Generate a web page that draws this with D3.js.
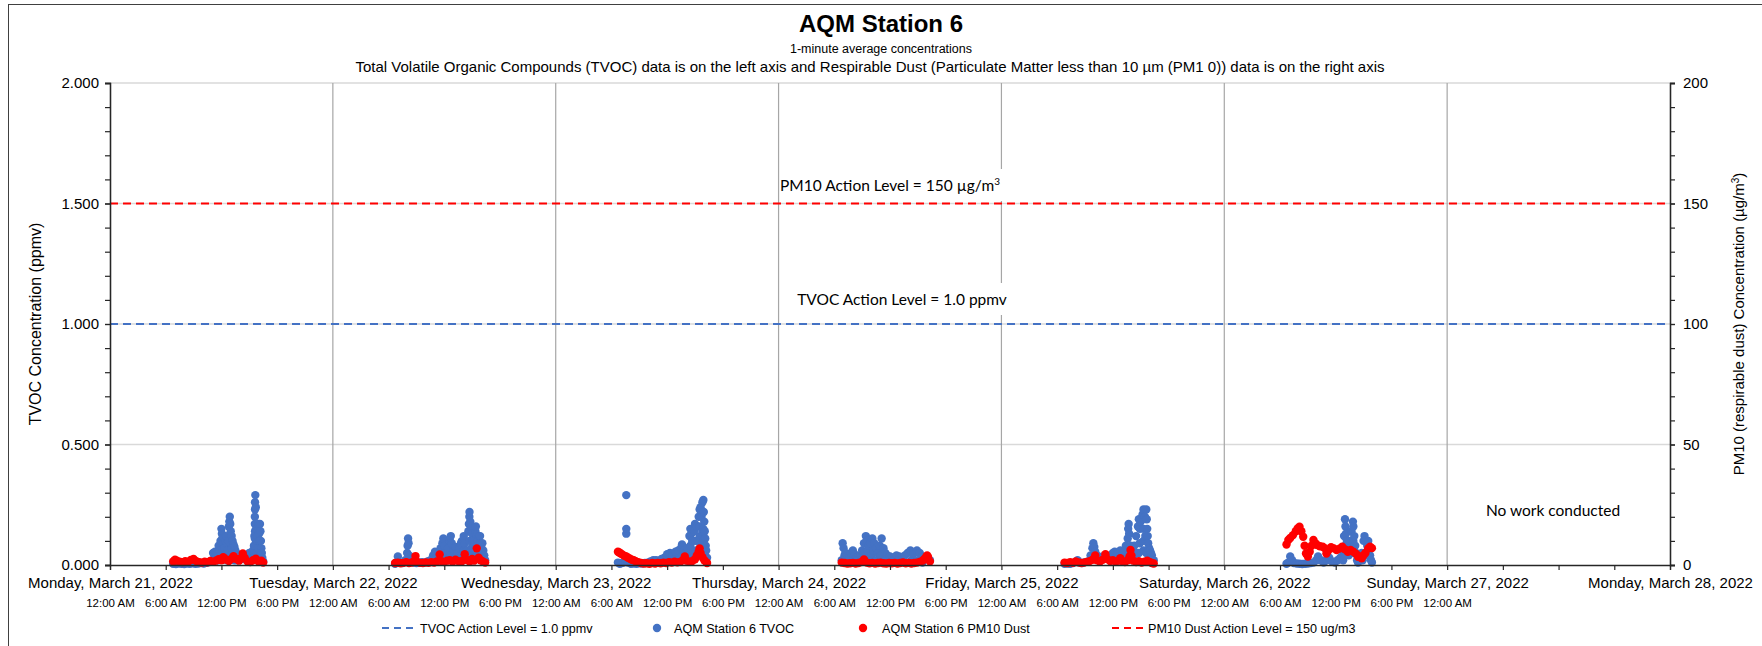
<!DOCTYPE html>
<html>
<head>
<meta charset="utf-8">
<script src="https://cdn.jsdelivr.net/npm/d3@7"></script>
<style>
  body { margin: 0; background: #fff; }
  text { font-family: "Liberation Sans", Arial, sans-serif; }
  .note { font-family: Lato, "Open Sans", sans-serif; }
</style>
</head>
<body>
<div id="chart"></div>
<script>
// data: [hours since Mon Mar 21 2022 00:00, value]
// TVOC in ppmv (left axis), PM10 in ug/m3 (right axis)
const tvocMar21 = [[6.8,0.005],[7.1,0.004],[7.4,0.006],[7.7,0.005],[8.0,0.004],[8.3,0.006],[8.6,0.005],[8.9,0.007],[9.2,0.005],[9.5,0.006],[9.8,0.008],[10.1,0.006],[10.4,0.009],[10.7,0.012],[11.0,0.02],
  [11.1,0.05],[11.2,0.02],[11.3,0.055],[11.5,0.045],[11.6,0.02],[11.7,0.08],[11.8,0.06],[11.9,0.1],[12.0,0.15],[12.0,0.05],[12.05,0.13],[12.1,0.11],[12.2,0.09],[12.2,0.03],[12.3,0.07],[12.4,0.1],[12.4,0.04],[12.5,0.12],[12.6,0.09],[12.6,0.02],[12.7,0.06],[12.8,0.16],[12.8,0.1],[12.85,0.18],[12.9,0.2],[12.95,0.17],[13.0,0.14],[13.0,0.04],[13.1,0.12],[13.1,0.07],[13.2,0.1],[13.3,0.085],[13.3,0.03],[13.4,0.075],[13.4,0.02],[13.5,0.06],[13.6,0.05],[13.7,0.02],[13.8,0.04],[14.0,0.035],[14.2,0.03],[14.4,0.025],[14.6,0.03],[14.8,0.04],[15.0,0.05],[15.1,0.02],[15.2,0.045],[15.4,0.06],[15.5,0.08],[15.5,0.03],[15.55,0.12],[15.6,0.05],[15.6,0.08],[15.6,0.11],[15.6,0.17],[15.6,0.2],[15.62,0.14],[15.62,0.23],[15.62,0.26],[15.65,0.29],[15.7,0.24],[15.75,0.15],[15.8,0.1],[15.8,0.05],[15.9,0.12],[15.95,0.15],[16.0,0.17],[16.0,0.07],[16.05,0.13],[16.1,0.1],[16.15,0.17],[16.2,0.14],[16.2,0.04],[16.25,0.1],[16.3,0.07],[16.35,0.05],[16.4,0.03],[16.5,0.015]];
const tvocMar22 = [[30.7,0.005],[31.0,0.035],[31.2,0.01],[31.5,0.008],[31.8,0.02],[32.0,0.05],[32.05,0.08],[32.1,0.11],[32.15,0.09],[32.2,0.04],[32.4,0.015],[32.7,0.01],[33.0,0.008],[33.3,0.01],[33.6,0.012],[33.9,0.01],[34.2,0.015],[34.5,0.02],[34.8,0.04],[35.0,0.055],[35.1,0.02],[35.2,0.03],[35.4,0.05],[35.5,0.02],[35.6,0.07],[35.7,0.03],[35.8,0.09],[35.9,0.11],[35.9,0.04],[36.0,0.08],[36.1,0.03],[36.2,0.05],[36.4,0.07],[36.5,0.03],[36.6,0.1],[36.7,0.12],[36.7,0.04],[36.8,0.09],[37.0,0.06],[37.1,0.03],[37.2,0.075],[37.4,0.05],[37.5,0.02],[37.6,0.07],[37.8,0.09],[37.9,0.1],[37.9,0.04],[38.1,0.12],[38.1,0.06],[38.2,0.09],[38.4,0.06],[38.5,0.03],[38.6,0.14],[38.65,0.17],[38.7,0.2],[38.7,0.05],[38.7,0.1],[38.72,0.22],[38.72,0.14],[38.8,0.18],[38.9,0.16],[38.9,0.07],[39.0,0.13],[39.1,0.1],[39.2,0.08],[39.3,0.04],[39.35,0.14],[39.4,0.16],[39.4,0.05],[39.5,0.12],[39.6,0.1],[39.7,0.06],[39.75,0.12],[39.8,0.04],[39.85,0.12],[39.9,0.09],[40.0,0.07],[40.1,0.09],[40.2,0.06],[40.3,0.04],[40.4,0.02]];
const tvocMar23 = [[54.7,0.01],[54.9,0.005],[55.1,0.008],[55.3,0.01],[55.5,0.02],[55.6,0.13],[55.6,0.15],[55.6,0.29],[55.8,0.01],[56.1,0.005],[56.4,0.006],[56.7,0.005],[57.0,0.007],[57.3,0.006],[57.6,0.008],[57.9,0.01],[58.2,0.015],[58.5,0.02],[58.8,0.02],[59.1,0.018],[59.4,0.025],[59.7,0.03],[60.0,0.045],[60.3,0.05],[60.4,0.02],[60.6,0.04],[60.9,0.055],[61.0,0.02],[61.2,0.06],[61.4,0.03],[61.5,0.07],[61.6,0.085],[61.8,0.06],[62.0,0.05],[62.1,0.02],[62.2,0.07],[62.3,0.04],[62.4,0.12],[62.5,0.15],[62.5,0.08],[62.6,0.13],[62.7,0.1],[62.8,0.05],[62.9,0.14],[63.0,0.17],[63.0,0.1],[63.1,0.06],[63.2,0.16],[63.3,0.1],[63.4,0.2],[63.5,0.23],[63.5,0.12],[63.5,0.16],[63.6,0.24],[63.6,0.08],[63.7,0.2],[63.8,0.26],[63.8,0.14],[63.9,0.27],[63.9,0.06],[63.9,0.1],[63.9,0.15],[63.95,0.22],[64.0,0.18],[64.05,0.14],[64.1,0.11],[64.15,0.08],[64.2,0.06],[64.3,0.03]];
const tvocMar24 = [[78.8,0.02],[78.9,0.09],[79.0,0.07],[79.1,0.04],[79.2,0.05],[79.4,0.035],[79.5,0.01],[79.6,0.03],[79.8,0.05],[80.0,0.06],[80.1,0.03],[80.2,0.045],[80.4,0.03],[80.5,0.01],[80.6,0.035],[80.8,0.04],[81.0,0.06],[81.1,0.03],[81.2,0.09],[81.3,0.05],[81.4,0.12],[81.5,0.1],[81.5,0.02],[81.6,0.06],[81.7,0.08],[81.9,0.09],[82.0,0.04],[82.1,0.11],[82.2,0.06],[82.3,0.09],[82.5,0.07],[82.5,0.02],[82.7,0.05],[82.9,0.08],[83.0,0.04],[83.1,0.11],[83.3,0.07],[83.5,0.05],[83.5,0.015],[83.7,0.04],[84.0,0.035],[84.3,0.03],[84.5,0.01],[84.7,0.04],[85.0,0.035],[85.3,0.03],[85.5,0.01],[85.6,0.04],[85.9,0.05],[86.2,0.06],[86.3,0.02],[86.5,0.045],[86.5,0.01],[86.9,0.06],[87.0,0.02],[87.2,0.05],[87.5,0.035],[87.5,0.01],[87.8,0.03],[88.1,0.025],[88.3,0.02]];
const tvocMar25 = [[102.8,0.005],[103.1,0.006],[103.4,0.005],[103.7,0.008],[104.0,0.012],[104.2,0.02],[104.4,0.01],[104.7,0.008],[105.0,0.012],[105.3,0.015],[105.6,0.04],[105.8,0.07],[105.9,0.09],[106.0,0.075],[106.0,0.03],[106.1,0.055],[106.3,0.04],[106.6,0.03],[106.9,0.035],[107.2,0.03],[107.5,0.025],[107.8,0.04],[108.0,0.05],[108.2,0.055],[108.3,0.02],[108.5,0.045],[108.8,0.06],[108.9,0.02],[109.1,0.05],[109.4,0.08],[109.5,0.03],[109.6,0.11],[109.65,0.15],[109.7,0.17],[109.7,0.03],[109.75,0.13],[109.8,0.06],[109.9,0.08],[110.1,0.06],[110.2,0.03],[110.3,0.08],[110.5,0.12],[110.6,0.05],[110.7,0.16],[110.8,0.19],[110.8,0.05],[110.9,0.15],[110.9,0.09],[111.0,0.18],[111.2,0.21],[111.3,0.23],[111.3,0.06],[111.3,0.1],[111.3,0.15],[111.45,0.2],[111.5,0.12],[111.6,0.23],[111.6,0.05],[111.65,0.19],[111.7,0.15],[111.75,0.12],[111.8,0.09],[111.9,0.07],[112.0,0.06],[112.1,0.05],[112.2,0.04],[112.4,0.02]];
const tvocMar26 = [[126.7,0.005],[126.9,0.01],[127.1,0.035],[127.3,0.02],[127.5,0.008],[127.8,0.006],[128.1,0.005],[128.4,0.004],[128.7,0.005],[129.0,0.006],[129.3,0.008],[129.6,0.01],[129.9,0.02],[130.1,0.035],[130.4,0.02],[130.7,0.01],[131.0,0.02],[131.3,0.03],[131.6,0.015],[131.9,0.01],[132.2,0.02],[132.5,0.03],[132.7,0.06],[132.8,0.02],[132.9,0.12],[133.0,0.19],[133.0,0.04],[133.0,0.08],[133.05,0.16],[133.1,0.13],[133.2,0.1],[133.3,0.08],[133.4,0.04],[133.5,0.1],[133.6,0.05],[133.7,0.14],[133.85,0.18],[133.9,0.16],[133.9,0.05],[133.9,0.1],[134.0,0.12],[134.1,0.08],[134.2,0.05],[134.3,0.02],[134.4,0.01],[134.6,0.02],[134.8,0.05],[134.9,0.02],[135.0,0.1],[135.1,0.12],[135.1,0.05],[135.2,0.1],[135.4,0.08],[135.5,0.1],[135.5,0.04],[135.6,0.07],[135.7,0.04],[135.8,0.02],[135.9,0.01]];

const pm10Mar21 = [[6.8,1.5],[7.0,2.2],[7.2,1.8],[7.5,1.4],[7.8,1.2],[8.1,1.6],[8.4,1.3],[8.7,2.1],[9.0,2.5],[9.3,1.6],[9.6,1.2],[9.9,1.0],[10.2,1.4],[10.5,1.1],[10.8,1.7],[11.1,1.3],[11.4,1.8],[11.7,2.4],[12.0,2.0],[12.2,3.2],[12.5,2.3],[12.8,1.6],[13.1,2.6],[13.3,3.6],[13.6,2.5],[13.9,1.8],[14.1,2.8],[14.3,4.8],[14.5,3.0],[14.8,1.5],[15.1,1.2],[15.4,2.0],[15.7,2.6],[16.0,1.4],[16.3,1.8],[16.5,1.0]];
const pm10Mar22 = [[30.7,0.8],[31.0,1.0],[31.3,0.7],[31.6,0.9],[31.9,1.2],[32.2,0.8],[32.5,1.0],[32.7,1.5],[32.9,3.7],[33.1,1.3],[33.4,0.9],[33.7,0.8],[34.0,1.1],[34.3,0.9],[34.6,1.2],[34.9,1.0],[35.2,1.5],[35.5,4.4],[35.7,1.6],[36.0,1.2],[36.3,1.8],[36.6,2.0],[36.9,1.4],[37.2,2.2],[37.5,1.6],[37.8,1.3],[38.0,1.9],[38.2,4.5],[38.4,2.2],[38.7,1.5],[39.0,2.5],[39.2,1.8],[39.5,6.9],[39.7,3.0],[39.9,2.0],[40.1,1.6],[40.4,1.0]];
const pm10Mar23 = [[54.7,5.5],[54.85,5.2],[55.0,4.8],[55.2,4.3],[55.4,3.8],[55.6,3.5],[55.8,3.0],[56.0,2.6],[56.2,2.2],[56.4,2.0],[56.6,1.6],[56.9,1.2],[57.2,0.8],[57.5,0.6],[57.8,0.7],[58.1,0.5],[58.4,0.8],[58.7,0.6],[59.0,0.9],[59.3,0.7],[59.6,1.0],[59.9,0.8],[60.2,1.2],[60.5,1.0],[60.8,1.4],[61.1,1.1],[61.4,1.3],[61.7,2.0],[61.9,3.5],[62.1,1.8],[62.4,1.4],[62.7,1.6],[63.0,2.4],[63.2,4.0],[63.4,5.5],[63.5,6.9],[63.6,5.0],[63.8,3.2],[64.0,2.0],[64.2,1.2],[64.3,0.8]];
const pm10Mar24 = [[78.8,1.0],[79.1,0.8],[79.4,0.6],[79.7,0.7],[80.0,0.9],[80.3,0.6],[80.6,0.8],[80.9,1.2],[81.2,2.3],[81.5,1.0],[81.8,0.7],[82.1,0.9],[82.4,0.6],[82.7,0.8],[83.0,1.0],[83.3,0.7],[83.6,0.6],[83.9,0.8],[84.2,0.7],[84.5,0.9],[84.8,0.6],[85.1,0.8],[85.4,1.1],[85.7,0.7],[86.0,0.9],[86.3,0.6],[86.6,0.8],[86.9,1.0],[87.2,1.3],[87.5,1.8],[87.7,2.5],[87.9,3.4],[88.0,4.0],[88.1,3.2],[88.3,1.5]];
const pm10Mar25 = [[102.8,1.0],[103.1,0.8],[103.4,1.2],[103.7,0.9],[104.0,1.5],[104.3,1.1],[104.6,0.8],[104.9,1.0],[105.2,1.3],[105.5,1.6],[105.8,2.2],[106.1,4.0],[106.3,2.0],[106.6,1.4],[106.9,2.2],[107.2,4.5],[107.4,2.5],[107.7,1.6],[108.0,2.0],[108.3,1.3],[108.6,1.8],[108.8,2.8],[109.0,1.6],[109.3,1.2],[109.6,2.0],[109.8,3.5],[109.9,6.2],[110.0,4.0],[110.2,1.8],[110.5,1.2],[110.8,1.6],[111.1,1.0],[111.4,1.4],[111.7,1.8],[112.0,1.2],[112.2,0.8],[112.4,0.6]];
const pm10Mar26 = [[126.7,8.5],[126.9,10.4],[127.1,11.2],[127.4,12.4],[127.7,14.0],[127.9,15.2],[128.1,15.9],[128.3,14.0],[128.5,11.7],[128.65,8.0],[128.8,4.8],[129.0,3.5],[129.2,5.5],[129.4,8.0],[129.6,10.4],[129.8,9.0],[130.0,8.3],[130.3,7.8],[130.6,7.6],[130.8,7.0],[131.0,4.8],[131.2,6.0],[131.5,7.4],[131.8,6.9],[132.1,6.2],[132.4,6.8],[132.7,7.6],[133.0,6.5],[133.3,5.5],[133.6,6.2],[133.9,5.5],[134.2,4.6],[134.4,3.4],[134.6,3.5],[134.8,2.8],[135.0,4.0],[135.2,5.0],[135.5,6.9],[135.7,7.6],[135.9,7.0]];

const tvocActionLevel = 1.0;   // ppmv
const pm10ActionLevel = 150;   // ug/m3

const blue = '#4472C4', red = '#FF0000';
const width = 1762, height = 646;
const margin = {top: 83, right: 92, bottom: 81, left: 110};
const dotR = 4.2;

const start = new Date(2022, 2, 21), end = new Date(2022, 2, 28);
const toDate = h => d3.timeMinute.offset(start, Math.round(h * 60));

const tvoc = [].concat(tvocMar21, tvocMar22, tvocMar23, tvocMar24, tvocMar25, tvocMar26);
const pm10 = [].concat(pm10Mar21, pm10Mar22, pm10Mar23, pm10Mar24, pm10Mar25, pm10Mar26);

var x = d3.scaleTime().domain([start, end]).range([margin.left, width - margin.right]);
var yL = d3.scaleLinear().domain([0, 2]).range([height - margin.bottom, margin.top]);
var yR = d3.scaleLinear().domain([0, 200]).range([height - margin.bottom, margin.top]);
const x0 = x.range()[0], x1 = x.range()[1], yBot = yL.range()[0], yTop = yL.range()[1];

var svg = d3.select('#chart').append('svg')
  .attr('width', width).attr('height', height);

// outer frame
svg.append('rect')
  .attr('x', 8.5).attr('y', 4.5).attr('width', width + 20).attr('height', height + 20)
  .attr('fill', 'none').attr('stroke', '#404040');

// titles
svg.append('text').attr('x', 881).attr('y', 32).attr('text-anchor', 'middle')
  .attr('font-size', 24).attr('font-weight', 'bold').text('AQM Station 6');
svg.append('text').attr('x', 881).attr('y', 53).attr('text-anchor', 'middle')
  .attr('font-size', 12.5).text('1-minute average concentrations');
svg.append('text').attr('x', 870).attr('y', 72).attr('text-anchor', 'middle')
  .attr('font-size', 15)
  .text('Total Volatile Organic Compounds (TVOC) data is on the left axis and Respirable Dust (Particulate Matter less than 10 \u00b5m (PM1 0)) data is on the right axis');

// gridlines
svg.append('g').selectAll('line')
  .data(yL.ticks(4).filter(d => d > 0))
  .enter().append('line')
  .attr('x1', x0).attr('x2', x1)
  .attr('y1', d => yL(d)).attr('y2', d => yL(d))
  .attr('stroke', '#d9d9d9').attr('stroke-width', 1.5);
svg.append('g').selectAll('line')
  .data(d3.timeDay.range(d3.timeDay.offset(start, 1), end))
  .enter().append('line')
  .attr('x1', d => x(d)).attr('x2', d => x(d))
  .attr('y1', yTop).attr('y2', yBot)
  .attr('stroke', '#a6a6a6').attr('stroke-width', 1.2);

// action levels
svg.append('line')
  .attr('x1', x0).attr('x2', x1)
  .attr('y1', yL(tvocActionLevel)).attr('y2', yL(tvocActionLevel))
  .attr('stroke', blue).attr('stroke-width', 2).attr('stroke-dasharray', '8,5');
svg.append('line')
  .attr('x1', x0).attr('x2', x1)
  .attr('y1', yR(pm10ActionLevel)).attr('y2', yR(pm10ActionLevel))
  .attr('stroke', red).attr('stroke-width', 2).attr('stroke-dasharray', '8,5');

// text boxes (white fill hides the Friday gridline behind the label)
function note(cx, cy, label, box) {
  if (box) {
    svg.append('rect').attr('x', 786).attr('y', cy - 17).attr('width', 226).attr('height', 32)
      .attr('fill', '#fff');
  }
  svg.append('text').attr('class', 'note').attr('x', cx).attr('y', cy + 5)
    .attr('text-anchor', 'middle').attr('font-size', 15.5).html(label);
}
note(890, 186, 'PM10 Action Level = 150 \u00b5g/m<tspan dy="-6" font-size="10">3</tspan>', true);
note(902, 300, 'TVOC Action Level = 1.0 ppmv', true);
note(1553, 511, 'No work conducted', false);

// points
svg.append('g').selectAll('circle')
  .data(tvoc).enter().append('circle')
  .attr('cx', d => x(toDate(d[0]))).attr('cy', d => yL(d[1]))
  .attr('r', dotR).attr('fill', blue);
svg.append('g').selectAll('circle')
  .data(pm10).enter().append('circle')
  .attr('cx', d => x(toDate(d[0]))).attr('cy', d => yR(d[1]))
  .attr('r', dotR).attr('fill', red);

// axes
function styleAxis(g) {
  g.select('.domain').attr('stroke', '#262626').attr('stroke-width', 1.3);
  g.selectAll('.tick line').attr('stroke', '#262626').attr('stroke-width', 1.2);
  g.selectAll('text').attr('fill', '#000').attr('font-family', '"Liberation Sans", Arial, sans-serif');
}

svg.append('g').attr('transform', 'translate(' + x0 + ',0)')
  .call(d3.axisLeft(yL).tickValues(d3.range(0, 2.001, 0.1)).tickSizeOuter(0).tickSize(5).tickFormat(''))
  .call(styleAxis);
svg.append('g').attr('transform', 'translate(' + x0 + ',0)')
  .call(d3.axisLeft(yL).tickValues([0, 0.5, 1, 1.5, 2]).tickSize(5).tickPadding(6).tickFormat(d3.format('.3f')))
  .attr('font-size', 15)
  .call(styleAxis);

svg.append('g').attr('transform', 'translate(' + x1 + ',0)')
  .call(d3.axisRight(yR).tickValues(d3.range(0, 201, 10)).tickSizeOuter(0).tickSize(5).tickFormat(''))
  .call(styleAxis);
svg.append('g').attr('transform', 'translate(' + x1 + ',0)')
  .call(d3.axisRight(yR).tickValues([0, 50, 100, 150, 200]).tickSize(5).tickPadding(8))
  .attr('font-size', 15)
  .call(styleAxis);

svg.append('g').attr('transform', 'translate(0,' + yBot + ')')
  .call(d3.axisBottom(x).ticks(d3.timeHour.every(6)).tickSizeOuter(0).tickSize(5).tickFormat(''))
  .call(styleAxis);
svg.append('g').attr('transform', 'translate(0,' + yBot + ')')
  .call(d3.axisBottom(x).tickValues(d3.timeDay.range(start, d3.timeDay.offset(end, 1)))
    .tickSize(0).tickPadding(12.5).tickFormat(d3.timeFormat('%A, %B %-d, %Y')))
  .attr('font-size', 15)
  .call(styleAxis)
  .call(g => g.select('.domain').remove());
svg.append('g').attr('transform', 'translate(0,' + yBot + ')')
  .call(d3.axisBottom(x).tickValues(d3.timeHour.every(6).range(start, d3.timeHour.offset(d3.timeDay.offset(end, -1), 1)))
    .tickSize(0).tickPadding(34).tickFormat(d3.timeFormat('%-I:%M %p')))
  .attr('font-size', 11.5)
  .call(styleAxis)
  .call(g => g.select('.domain').remove());

// axis titles
svg.append('text').attr('transform', 'translate(41,' + (yTop + yBot) / 2 + ') rotate(-90)')
  .attr('text-anchor', 'middle').attr('font-size', 16).text('TVOC Concentration (ppmv)');
svg.append('text').attr('transform', 'translate(1744,' + (yTop + yBot) / 2 + ') rotate(-90)')
  .attr('text-anchor', 'middle').attr('font-size', 15)
  .html('PM10 (respirable dust) Concentration (\u00b5g/m<tspan dy="-5" font-size="10">3</tspan><tspan dy="5">)</tspan>');

// legend
var legend = svg.append('g').attr('transform', 'translate(0,628)').attr('font-size', 12.6);
legend.append('line').attr('x1', 382).attr('x2', 418).attr('stroke', blue).attr('stroke-width', 2).attr('stroke-dasharray', '7,5');
legend.append('text').attr('x', 420).attr('y', 4.5).text('TVOC Action Level = 1.0 ppmv');
legend.append('circle').attr('cx', 657).attr('r', dotR).attr('fill', blue);
legend.append('text').attr('x', 674).attr('y', 4.5).text('AQM Station 6 TVOC');
legend.append('circle').attr('cx', 863).attr('r', dotR).attr('fill', red);
legend.append('text').attr('x', 882).attr('y', 4.5).text('AQM Station 6 PM10 Dust');
legend.append('line').attr('x1', 1112).attr('x2', 1146).attr('stroke', red).attr('stroke-width', 2).attr('stroke-dasharray', '7,5');
legend.append('text').attr('x', 1148).attr('y', 4.5).text('PM10 Dust Action Level = 150 ug/m3');
</script>
</body>
</html>
